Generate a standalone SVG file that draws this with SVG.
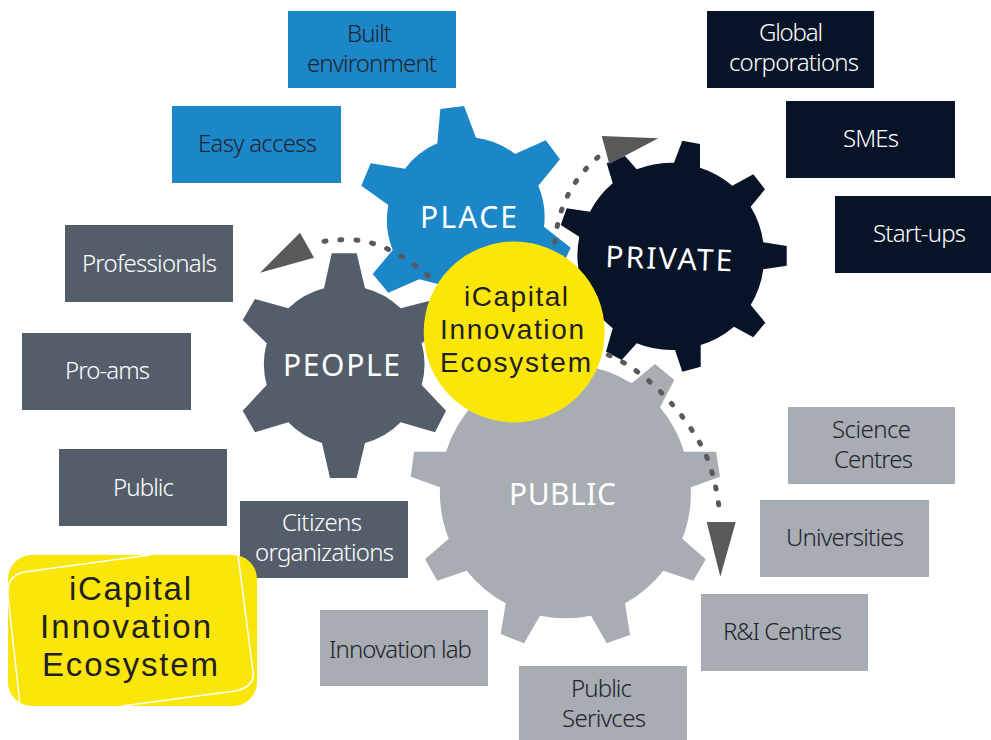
<svg xmlns="http://www.w3.org/2000/svg" width="991" height="740" viewBox="0 0 991 740">
<style>
text{font-family:"Noto Sans","Liberation Sans",sans-serif}
.b{font-size:24px;font-weight:300;fill:#23232b}
.w{font-size:24px;font-weight:300;fill:#fff}
.g{font-size:30px;font-weight:400;fill:#fff}
.y{font-family:"Liberation Sans",Arial,sans-serif;font-size:28px;fill:#1f1f27}
.yb{font-family:"Liberation Sans",Arial,sans-serif;font-size:33px;fill:#1f1f27}
.pl{fill:#1b87c9}.pr{fill:#071326}.pe{fill:#545e6a}.pu{fill:#a7adb3}
.dots{fill:none;stroke:#58595b;stroke-width:5;stroke-linecap:round;stroke-dasharray:2 14}
.head{fill:#58595b}
</style>
<rect width="991" height="740" fill="#fff"/>
<g id="box-built"><rect class="pl" x="288" y="11" width="168" height="77"/><text class="b" x="347" y="42" textLength="45">Built</text><text class="b" x="307" y="72" textLength="130">environment</text></g>
<g id="box-easy"><rect class="pl" x="172" y="106" width="169" height="77"/><text class="b" x="198" y="152" textLength="119">Easy access</text></g>
<g id="box-global"><rect class="pr" x="707" y="11" width="167" height="77"/><text class="w" x="759" y="41" textLength="64">Global</text><text class="w" x="729" y="71" textLength="130">corporations</text></g>
<g id="box-smes"><rect class="pr" x="786" y="101" width="169" height="77"/><text class="w" x="843" y="147" textLength="56">SMEs</text></g>
<g id="box-startups"><rect class="pr" x="835" y="196" width="156" height="77"/><text class="w" x="873" y="242" textLength="93">Start-ups</text></g>
<g id="box-professionals"><rect class="pe" x="65" y="225" width="168" height="77"/><text class="w" x="82" y="272" textLength="135">Professionals</text></g>
<g id="box-proams"><rect class="pe" x="22" y="333" width="169" height="77"/><text class="w" x="65" y="379" textLength="85">Pro-ams</text></g>
<g id="box-public-people"><rect class="pe" x="59" y="449" width="168" height="77"/><text class="w" x="113" y="496" textLength="61">Public</text></g>
<g id="box-citizens"><rect class="pe" x="240" y="501" width="168" height="77"/><text class="w" x="282" y="531" textLength="80">Citizens</text><text class="w" x="255" y="561" textLength="139">organizations</text></g>
<g id="box-science"><rect class="pu" x="788" y="407" width="167" height="77"/><text class="b" x="832" y="438" textLength="79">Science</text><text class="b" x="834" y="468" textLength="79">Centres</text></g>
<g id="box-universities"><rect class="pu" x="760" y="500" width="169" height="77"/><text class="b" x="786" y="546" textLength="118">Universities</text></g>
<g id="box-ri"><rect class="pu" x="701" y="594" width="167" height="77"/><text class="b" x="723" y="640" textLength="119">R&amp;I Centres</text></g>
<g id="box-lab"><rect class="pu" x="320" y="610" width="168" height="76"/><text class="b" x="329" y="658" textLength="143">Innovation lab</text></g>
<g id="box-services"><rect class="pu" x="519" y="666" width="168" height="74"/><text class="b" x="571" y="697" textLength="61">Public</text><text class="b" x="562" y="727" textLength="84">Serivces</text></g>
<g id="gear-place"><path class="pl" d="M440.3 109L464 106L476 137.7A80 80 0 0 1 515 154L545.7 140.3L560 159.3L538.3 185.7A80 80 0 0 1 544 226.7L570.7 247.7L565 260L500 300L419.3 279.3L388.3 292.7L372.7 274L392.7 250A80 80 0 0 1 388.3 205L361.3 185.7L370.7 163.3L405 168.7A80 80 0 0 1 437.3 143.3Z"/><text class="g" x="420" y="228" textLength="97">PLACE</text></g>
<g id="gear-private"><path class="pr" d="M682.3 140.7L700 144L700 167.7A93 93 0 0 1 732.3 185.7L753.3 174.3L765 189.3L750.7 206.7A93 93 0 0 1 763.3 242.3L786.7 246L786.7 265.7L763.3 269.3A93 93 0 0 1 750.7 305L765.3 322.7L753.3 337.3L734 326.7A93 93 0 0 1 700.7 345L700.7 366.7L682.3 371.7L675 350A93 93 0 0 1 636.7 343.3L621.7 360L606 351.7L612.7 328.3A93 93 0 0 1 579.3 236.7L560.7 225L566.7 208.3L590 211.7A93 93 0 0 1 612.7 183.3L606.7 163.3L625 156L636.7 169.3A93 93 0 0 1 674 162.7Z"/><text class="g" transform="rotate(2 605 266)" x="605" y="267" textLength="127">PRIVATE</text></g>
<g id="gear-people"><path class="pe" d="M331.7 253.3L356.7 253.3L365 288.3A79 79 0 0 1 400.7 308.3L430 300.7L450 320L421.7 343.3A79 79 0 0 1 421.7 385L446 410.7L435 432.3L400.7 422.3A79 79 0 0 1 365 443L356.7 478L330 478L322 443A79 79 0 0 1 288.3 422.3L255 432.3L242.7 410.7L266.7 385A79 79 0 0 1 266.7 343.3L242.7 320L255 299L288.3 308.3A79 79 0 0 1 324 288.3Z"/><text class="g" x="283" y="376" textLength="117">PEOPLE</text></g>
<g id="gear-public"><path class="pu" d="M631.7 383.3L655 364L674.3 380L660 407.3A125 125 0 0 1 684 451.7L716 451.7L720 476.7L690.7 487.3A125 125 0 0 1 682.3 538.7L705.7 559.3L693.3 580.7L663.3 570.7A125 125 0 0 1 625 603.3L630 635L606.7 643.3L591 615.7A125 125 0 0 1 540 615.7L524 643.3L500.7 634L505.7 603.3A125 125 0 0 1 466.7 570.7L437.3 580.7L425 559.3L448.7 538.7A125 125 0 0 1 440 487.3L410.7 476.7L414 451.7L446 451.7A125 125 0 0 1 631.7 383.3Z"/><text class="g" x="509" y="505" textLength="107">PUBLIC</text></g>
<g id="hub"><circle cx="514.2" cy="332" r="90.5" fill="#fbe60a"/><text class="y" x="464" y="306" textLength="104">iCapital</text><text class="y" x="440" y="339" textLength="144">Innovation</text><text class="y" x="440" y="372" textLength="151">Ecosystem</text></g>
<g id="connectors">
<path class="dots" d="M428.3 276C405 256 375 238 344 239.7C332 240 322 241 311.7 244.3"/>
<polygon class="head" points="300,232.7 314,257.7 260,272.7"/>
<path class="dots" d="M555 242.3C558 205 575 175 602.7 153.3"/>
<polygon class="head" points="601.7,136 658.3,138.3 609.3,164"/>
<path class="dots" d="M608.3 355C650 372 690 420 706 455C714 475 718 495 720 516.7"/>
<polygon class="head" points="706.7,522 735.7,522 720.3,576.7"/>
</g>
<g id="badge"><rect x="8" y="555" width="249" height="151" rx="24" fill="#fbe60a"/>
<path d="M20 705L8 596Q6 576 24 572L150 555M238 555L253 672Q255 687 235 691L122 706" fill="none" stroke="#fff" stroke-width="1.5"/>
<text class="yb" x="69" y="600" textLength="122">iCapital</text><text class="yb" x="40" y="638" textLength="171">Innovation</text><text class="yb" x="42" y="676" textLength="176">Ecosystem</text></g>
</svg>
